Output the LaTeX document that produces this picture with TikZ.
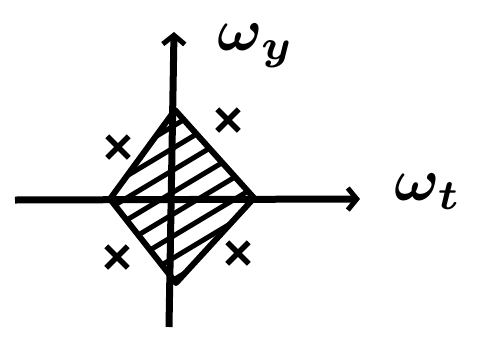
\documentclass[tikz,border=0pt]{standalone}
\usepackage{amsmath,bm}
\usetikzlibrary{arrows.meta,shapes.misc}
\begin{document}
\begin{tikzpicture}[x=1pt,y=-1pt,
  axis/.style={line width=7pt,-{Straight Barb[length=9pt,width=22pt,line width=5pt]}},
  edge/.style={line width=6pt,line join=round},
  hatch/.style={line width=5pt},
  xmark/.style={cross out,draw,line width=5.5pt,minimum size=16pt,inner sep=0pt},
  lbl/.style={inner sep=0pt}]
\useasboundingbox (0,0) rectangle (482,338);
% diamond vertices
\coordinate (L) at (110,199);
\coordinate (T) at (175,110);
\coordinate (R) at (254,198);
\coordinate (B) at (176,283);
% axes
\coordinate (xs) at (15,200);
\coordinate (xe) at (360,199);
\coordinate (ys) at (169,327);
\coordinate (ye) at (174,32);
% hatching clipped to diamond
\begin{scope}
  \clip (L) -- (T) -- (R) -- (B) -- cycle;
  \foreach \c in {-88,-66,-44,-22,0,22,44,66,88,110} {
    \draw[hatch] (60,{230+\c+30}) -- (300,{230+\c-114});
  }
\end{scope}
\draw[edge] (L) -- (T) -- (R) -- (B) -- cycle;
\draw[axis] (xs) -- (xe);
\draw[axis] (ys) -- (ye);
\node[lbl] (wy) at (256,46) {\scalebox{6}{$\bm{\omega_y}$}};
\node[lbl] (wt) at (428,192) {\scalebox{6}{$\bm{\omega_t}$}};
\node[xmark] (x1) at (118,147) {};
\node[xmark] (x2) at (228,120) {};
\node[xmark] (x3) at (117,257) {};
\node[xmark] (x4) at (238,253) {};
\end{tikzpicture}
\end{document}
